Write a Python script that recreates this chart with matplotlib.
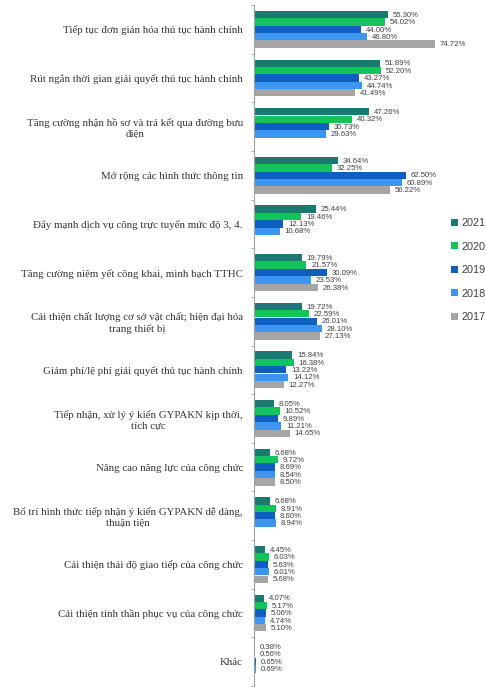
import numpy as np
import matplotlib
matplotlib.use("Agg")
import matplotlib.pyplot as plt
from matplotlib.patches import Patch

categories = [
    "Tiếp tục đơn giản hóa thủ tục hành chính",
    "Rút ngắn thời gian giải quyết thủ tục hành chính",
    "Tăng cường nhận hồ sơ và trả kết qua đường bưu\nđiện",
    "Mở rộng các hình thức thông tin",
    "Đẩy mạnh dịch vụ công trực tuyến mức độ 3, 4.",
    "Tăng cường niêm yết công khai, minh bạch TTHC",
    "Cải thiện chất lượng cơ sở vật chất; hiện đại hóa\ntrang thiết bị",
    "Giảm phí/lệ phí giải quyết thủ tục hành chính",
    "Tiếp nhận, xử lý ý kiến GYPAKN kịp thời,\ntích cực",
    "Nâng cao năng lực của công chức",
    "Bố trí hình thức tiếp nhận ý kiến GYPAKN dễ dàng,\nthuận tiện",
    "Cải thiện thái độ giao tiếp của công chức",
    "Cải thiện tinh thần phục vụ của công chức",
    "Khác",
]

years = ["2021", "2020", "2019", "2018", "2017"]

v2021 = [55.30, 51.89, 47.26, 34.64, 25.44, 19.79, 19.72, 15.84, 8.05, 6.68, 6.68, 4.45, 4.07, 0.38]
v2020 = [54.02, 52.20, 40.32, 32.25, 19.46, 21.57, 22.59, 16.38, 10.52, 9.72, 8.91, 6.03, 5.17, 0.56]
v2019 = [44.00, 43.27, 30.73, 62.50, 12.13, 30.09, 26.01, 13.22, 9.89, 8.69, 8.60, 5.63, 5.06, 0.65]
v2018 = [46.80, 44.74, 29.63, 60.89, 10.68, 23.53, 28.10, 14.12, 11.21, 8.54, 8.94, 6.01, 4.74, 0.69]
v2017 = [74.72, 41.49, None, 56.22, None, 26.38, 27.13, 12.27, 14.65, 8.50, None, 5.68, 5.10, None]

series = [v2021, v2020, v2019, v2018, v2017]
colors = ["#1a7a72", "#12c45a", "#0f5fc0", "#3a96f0", "#a5a5a5"]

fig = plt.figure(figsize=(4.86, 6.87), dpi=100)
ax = fig.add_axes([254 / 486, 1 - 686 / 687, 194 / 486, 681 / 687])

n = len(categories)
y = np.arange(n)
slot = 0.152
bar_h = 0.15

for j, (vals, col) in enumerate(zip(series, colors)):
    offs = (j - 2) * slot
    for i, v in enumerate(vals):
        if v is None:
            continue
        ax.barh(y[i] + offs, v, height=bar_h, color=col, edgecolor="none")
        ax.annotate(f"{v:.2f}%", xy=(v, y[i] + offs), xytext=(3.5, -0.5),
                    textcoords="offset points", ha="left", va="center",
                    fontsize=5.6, color="#404040", family="Liberation Sans")

ax.set_xlim(0, 80)
ax.set_ylim(n - 0.5, -0.5)

ax.set_yticks(y)
ax.set_yticklabels(categories, fontsize=7.8, family="Liberation Serif",
                   color="#333333", multialignment="center")
ax.tick_params(axis="y", which="major", length=0, pad=8)
ax.set_yticks(np.arange(n + 1) - 0.5, minor=True)
ax.tick_params(axis="y", which="minor", length=2.5, color="#a0a0a0", width=0.6)

ax.set_xticks([])
for s in ["top", "right", "bottom"]:
    ax.spines[s].set_visible(False)
ax.spines["left"].set_color("#a0a0a0")
ax.spines["left"].set_linewidth(0.8)

handles = [Patch(facecolor=c, edgecolor="none") for c in colors]
fig.legend(handles, years, loc="upper left",
           bbox_to_anchor=(451 / 486, 1 - 218 / 687),
           frameon=False, handlelength=0.6, handleheight=0.6,
           handletextpad=0.35, labelspacing=1.25, borderpad=0, borderaxespad=0,
           labelcolor="#404040", prop={"family": "Liberation Sans", "size": 7.8})

fig.savefig("out.png", dpi=100, facecolor="white")
